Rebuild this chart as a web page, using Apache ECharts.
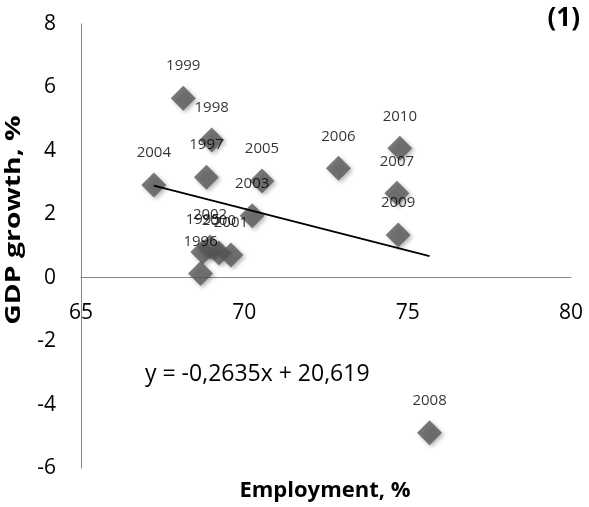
<!DOCTYPE html>
<html lang="en">

<head>
    <meta charset="UTF-8">
    <title>Employment vs GDP growth</title>
    <script src="https://cdn.jsdelivr.net/npm/echarts@6/dist/echarts.min.js"></script>
    <style>
        html, body { margin: 0; padding: 0; background: #fff; }
        #chart { width: 589px; height: 507px; }
    </style>
</head>

<body>
    <div id="chart"></div>

    <script>
        // data
        var years = ['1995', '1996', '1997', '1998', '1999', '2000', '2001', '2002',
                     '2003', '2004', '2005', '2006', '2007', '2008', '2009', '2010'];
        var employment = [68.73, 68.66, 68.84, 69.00, 68.13, 69.22, 69.59, 68.95,
                          70.24, 67.23, 70.54, 72.88, 74.67, 75.67, 74.71, 74.76];
        var gdpGrowth = [0.81, 0.13, 3.17, 4.34, 5.66, 0.78, 0.72, 0.97,
                         1.95, 2.92, 3.05, 3.45, 2.66, -4.89, 1.35, 4.08];
        var xTicks = [65, 70, 75, 80];
        var yTicks = [-6, -4, -2, 0, 2, 4, 6, 8];
        var slope = -0.2635;
        var intercept = 20.619;
        var trendX = [67.23, 75.67];

        var font = '"Open Sans", "DejaVu Sans", sans-serif';

        var points = years.map(function (y, i) {
            return { value: [employment[i], gdpGrowth[i]], name: y };
        });
        var trend = trendX.map(function (x) {
            return [x, slope * x + intercept];
        });

        var chart = echarts.init(document.getElementById('chart'));
        chart.setOption({
            animation: false,
            grid: { left: 81, right: 18, top: 24, bottom: 39 },
            xAxis: {
                type: 'value',
                min: xTicks[0],
                max: xTicks[xTicks.length - 1],
                interval: 5,
                axisLine: { onZero: true, lineStyle: { color: '#868686', width: 1 } },
                axisTick: { show: false },
                splitLine: { show: false },
                // labels sit under the zero line, not at the grid bottom
                axisLabel: { color: '#000', fontSize: 21, fontFamily: font, margin: -165 }
            },
            yAxis: {
                type: 'value',
                min: yTicks[0],
                max: yTicks[yTicks.length - 1],
                interval: 2,
                axisLine: { show: true, onZero: false, lineStyle: { color: '#868686', width: 1 } },
                axisTick: { show: false },
                splitLine: { show: false },
                axisLabel: { color: '#000', fontSize: 21, fontFamily: font, margin: 25 }
            },
            graphic: [
                {
                    // stretched along its length like the original
                    type: 'text', x: 14, y: 220, rotation: Math.PI / 2, scaleX: 1.35,
                    style: {
                        text: 'GDP growth, %', fill: '#000', font: 'bold 21px ' + font,
                        align: 'center', verticalAlign: 'middle'
                    }
                },
                {
                    type: 'text', x: 325, y: 491,
                    style: {
                        text: 'Employment, %', fill: '#000', font: 'bold 22px ' + font,
                        align: 'center', verticalAlign: 'middle'
                    }
                },
                {
                    type: 'text', right: 9, top: 6,
                    style: { text: '(1)', fill: '#000', font: 'bold 26px ' + font }
                },
                {
                    type: 'text', x: 145, y: 374,
                    style: {
                        text: 'y = -0,2635x + 20,619', fill: '#000', font: '23px ' + font,
                        verticalAlign: 'middle'
                    }
                }
            ],
            series: [
                {
                    type: 'line',
                    data: trend,
                    symbol: 'none',
                    lineStyle: { color: '#000', width: 2 },
                    z: 3
                },
                {
                    type: 'scatter',
                    data: points,
                    symbol: 'diamond',
                    symbolSize: 25,
                    itemStyle: {
                        color: '#595959',
                        shadowBlur: 4,
                        shadowOffsetX: 2,
                        shadowOffsetY: 2,
                        shadowColor: 'rgba(0,0,0,0.35)'
                    },
                    label: {
                        show: true,
                        position: 'top',
                        distance: 12,
                        formatter: '{b}',
                        color: '#000',
                        fontSize: 15,
                        fontFamily: font
                    },
                    z: 2
                }
            ]
        });
    </script>
</body>

</html>
